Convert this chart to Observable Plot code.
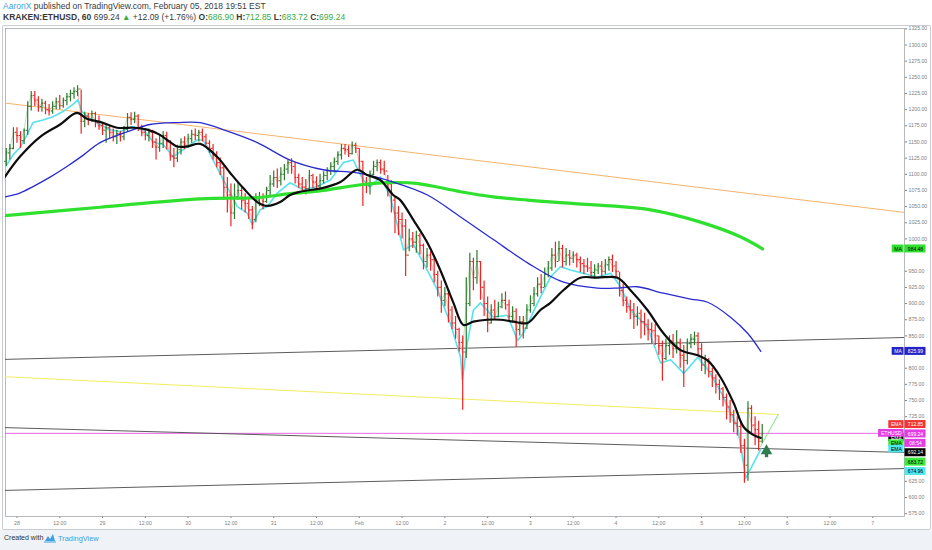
<!DOCTYPE html>
<html>
<head>
<meta charset="utf-8">
<script src="https://cdn.jsdelivr.net/npm/d3@7"></script>
<script src="https://cdn.jsdelivr.net/npm/@observablehq/plot@0.6"></script>
<style>
  body { margin: 0; width: 932px; height: 550px; background: #fff; position: relative; overflow: hidden;
         font-family: "Liberation Sans", Arial, sans-serif; }
  #hdr1, #hdr2 { position: absolute; left: 3px; white-space: nowrap; font-size: 8.5px; color: #3a3a3a; line-height: 11px; }
  #hdr1 { top: 1px; }
  #hdr2 { top: 12px; }
  #hdr1 .au { color: #3d9fe2; }
  #hdr2 .g { color: #3dab3d; }
  #frame { position: absolute; left: 2px; top: 25px; width: 927px; height: 503px; border: 1px solid #c8ccd2; border-radius: 2px; }
  #grafico { position: absolute; left: 0; top: 26px; }
  #foot { position: absolute; left: 0; top: 530px; width: 932px; height: 20px; background: #eff2f6; }
  #foot .txt { position: absolute; left: 4px; top: 4px; font-size: 7px; color: #333; white-space: nowrap; }
  #foot .tv { position: absolute; left: 58px; top: 4px; font-size: 7.4px; color: #3d9fe2; }
  #foot svg { position: absolute; left: 44px; top: 3px; }
</style>
</head>
<body>
<div id="hdr1"><span class="au">AaronX</span> published on TradingView.com, February 05, 2018 19:51 EST</div>
<div id="hdr2"><b>KRAKEN:ETHUSD, 60</b> 699.24 <span class="g">▲</span> +12.09 (+1.76%) <b>O:</b><span class="g">686.90</span> <b>H:</b><span class="g">712.85</span> <b>L:</b><span class="g">683.72</span> <b>C:</b><span class="g">699.24</span></div>
<div id="frame"></div>
<div id="grafico"></div>
<div id="foot">
  <span class="txt">Created with</span>
  <svg width="12" height="10" viewBox="0 0 12 10"><path d="M1 8 L4 3 L6 6 L9 1 L11 8 Z" fill="#3d9fe2"/><path d="M0 9 L12 9" stroke="#3d9fe2" stroke-width="1"/></svg>
  <span class="tv">TradingView</span>
</div>
<script>
// hourly ETHUSD bars, hour 0 = Jan 28 00:00
const startHour = -3
const firstOpen = 1120
const closes = [
  1133,1140,1165,1160,1152,1168,1205,1222,1215,1205,1210,1200,1198,1205,1212,1206,1214,1220,1225,1228,1232,
  1182,1190,1185,1194,1180,1175,1168,1172,1165,1158,1163,1158,1170,1188,1185,1190,1172,1165,1160,1165,1150,1142,1148,1160,1150,1128,1125,1138,1150,1145,
  1155,1162,1160,1165,1158,1148,1140,1130,1118,1110,1080,1068,1040,1065,1075,1060,1055,1045,1030,1060,1065,1058,1075,1085,1095,1090,1100,1108,1118,1112,1095,1085,1080,1078,1098,1088,1082,1090,1098,1105,1112,1120,1130,1140,1138,1132,1145,1140,1120,1085,1082,1100,1112,1118,1108,1105,
  1085,1060,1040,1030,1020,975,1000,995,1005,990,965,975,968,945,925,905,915,890,870,860,840,825,900,965,940,965,925,900,870,890,880,895,905,898,880,888,860,872,862,890,900,915,930,925,945,955,975,965,
  985,965,975,970,975,968,962,958,955,948,952,958,950,960,968,958,950,920,905,895,890,880,885,872,868,860,858,850,835,815,835,842,830,840,820,812,838,845,850,830,805,810,795,785,775,768,755,740,728,715,710,680,650,738,712,705,686.9,699.24
]
const highs = [
  1140,1146,1172,1172,1166,1170,1212,1228,1228,1220,1216,1213,1208,1212,1218,1222,1218,1225,1230,1234,1237,
  1230,1196,1194,1198,1196,1190,1180,1178,1175,1170,1168,1166,1174,1194,1195,1196,1192,1176,1170,1170,1168,1155,1162,1166,1165,1152,1140,1145,1155,1158,
  1162,1168,1170,1168,1170,1162,1152,1146,1135,1125,1112,1095,1085,1085,1086,1080,1070,1062,1050,1070,1072,1070,1080,1098,1105,1108,1110,1115,1122,1124,1118,1100,1095,1092,1106,1100,1096,1100,1104,1110,1118,1125,1135,1146,1146,1144,1150,1148,1140,1120,1095,1105,1120,1122,1122,1120,
  1098,1090,1065,1050,1040,1030,1015,1010,1012,1008,992,985,980,970,950,935,925,918,895,880,862,850,940,978,970,982,965,935,910,898,905,902,915,918,905,895,892,880,880,898,912,925,940,945,955,965,985,995,
  996,990,985,982,980,978,972,968,970,965,960,962,965,968,972,975,965,948,930,910,905,900,895,890,885,875,870,868,850,842,845,850,852,858,845,835,845,852,856,855,838,820,815,800,790,782,770,760,750,735,725,718,690,748,742,725,718,712.85
]
const lows = [
  1112,1122,1138,1148,1140,1146,1160,1198,1205,1196,1196,1192,1190,1193,1200,1200,1202,1206,1212,1216,1220,
  1162,1172,1175,1180,1172,1168,1160,1148,1155,1150,1146,1150,1152,1166,1176,1178,1166,1158,1152,1150,1140,1122,1134,1140,1138,1120,1110,1118,1130,1138,
  1140,1148,1152,1150,1150,1145,1132,1122,1110,1098,1060,1040,1019,1030,1060,1045,1040,1030,1014,1025,1050,1045,1055,1065,1080,1078,1082,1090,1100,1100,1085,1078,1070,1068,1072,1078,1076,1078,1085,1090,1098,1102,1114,1122,1130,1126,1130,1132,1105,1050,1070,1068,1098,1104,1100,1098,
  1065,1040,1008,1005,1000,942,980,985,978,975,952,955,950,932,910,885,895,870,860,845,825,735,815,895,920,930,905,880,855,868,875,878,892,890,872,870,832,850,845,860,885,895,910,915,925,940,950,955,
  965,955,958,958,962,955,948,945,948,942,938,945,942,945,950,948,940,910,895,885,875,860,865,845,850,842,838,835,820,780,812,820,815,822,800,770,805,830,835,820,795,790,785,770,760,750,740,720,715,700,695,668,622,625,700,680,672,683.72
]

// indicator lines: [hour, price]
const ema20 = [[-3.4,1096],[0.8,1127],[6.5,1158],[12.1,1177],[16.8,1195],[19.6,1186],[23.3,1181],[28.1,1172],[32.6,1172],[36.5,1169],[40.1,1161],[42.9,1150],[44.9,1143],[47.7,1143],[51.4,1147],[56.1,1127],[59.8,1102],[63.4,1079],[67.4,1057],[70.2,1051],[73.8,1057],[76.6,1068],[79.4,1073],[85.9,1079],[90.7,1088],[95.4,1107],[98.2,1099],[101.9,1091],[105.5,1068],[107.5,1060],[111.2,1029],[115.1,994],[118.7,952],[122.4,901],[125.2,867],[128,872],[131.9,875],[135.6,875],[139.2,872],[143.2,870],[146.8,890],[149.6,901],[153.3,921],[158,940],[162.8,940],[168.4,940],[172,921],[176.8,890],[181.3,854],[186.1,828],[190.9,820],[193.7,812],[197.3,786],[201,746],[203.8,709],[206.6,696.5],[208.6,692.14]]
const ma50 = [[-3.4,1065],[0.8,1071],[4.5,1081],[9.4,1096],[14,1112],[18.7,1130],[23.3,1149],[32.6,1169],[37.3,1177],[44.9,1180],[51.4,1180],[57.8,1169],[67.4,1149],[76.6,1122],[85.9,1107],[95.4,1102],[105.5,1088],[115.1,1068],[124.4,1034],[133.6,999],[143.2,963],[153.3,933],[162.8,924],[168.4,924],[174,926],[181.3,916],[188.9,907],[193.7,902],[200.1,879],[204.9,854],[208.6,825.99]]
const ma200 = [[-3.4,1036],[23.3,1049],[51.4,1062],[67.4,1064],[76.6,1070],[85.9,1075],[95.4,1083],[104,1087],[112,1086],[124.4,1073],[133.6,1065],[143.2,1060],[152.4,1056],[166.5,1051],[177.7,1045],[191.7,1026],[203,1003],[209.1,984.48]]
const emaLow = [[-3.4,1110],[-1.1,1130],[0.8,1141],[2.8,1161],[4.5,1180],[7.3,1184],[10.1,1189],[12.9,1197],[15.7,1208],[17.1,1215],[18.2,1197],[20.5,1186],[23.3,1177],[26.1,1169],[28.9,1166],[32.6,1174],[35.4,1169],[38.2,1150],[41,1146],[43.8,1127],[46.6,1138],[50.5,1153],[52.2,1153],[55,1122],[58.9,1081],[61.8,1050],[64.6,1040],[66,1022],[68.2,1045],[70.2,1050],[73,1071],[76.6,1087],[80.3,1076],[84.2,1081],[87.9,1091],[91.5,1118],[94.3,1122],[97.1,1091],[99.1,1081],[101.9,1096],[104.7,1065],[108.4,983],[111.2,991],[114,963],[117.9,921],[121.5,870],[124.4,817],[124.9,782],[126.3,839],[128,890],[130,901],[133.6,879],[137.5,882],[140.4,843],[142,854],[146,901],[149.6,941],[152.4,957],[155.2,952],[162.8,941],[166.5,947],[169.3,926],[172.1,890],[176.8,864],[180.5,808],[183.3,813],[187,792],[190.9,817],[194.5,792],[198.2,755],[202.1,709],[204.4,630],[208.6,674.96]]

// drawn trend lines
const orangeLine = [[-4.6,1211],[248.9,1041]]
const blackUpper = [[-4.6,813.5],[248.9,847.5]]
const blackMiddle = [[-4.6,708.3],[248.9,669.6]]
const blackLower = [[-4.6,610.8],[248.9,644.8]]
const yellowLine = [[-4.6,787.2],[213.5,728.4]]
const greenLine = [[208.5,678.9],[213.5,728.4]]
const lastPrice = 699.24
const arrowT = [210.2]
const arrowV = [669.6]

const xTickHours = [0,12,24,36,48,60,72,84,96,108,120,132,144,156,168,180,192,204,216,228,240]
const xTickLabels = ["28","12:00","29","12:00","30","12:00","31","12:00","Feb","12:00","2","12:00","3","12:00","4","12:00","5","12:00","6","12:00","7"]
const yTicks = [575,600,625,650,675,700,725,750,775,800,825,850,875,900,925,950,975,1000,1025,1050,1075,1100,1125,1150,1175,1200,1225,1250,1275,1300,1325]

// price tags on the right scale
const tagNames = ["EMA","EMA","ETHUSD","","EMA","EMA","MA","MA"]
const tagTexts = ["692.14","712.85","699.24","08:54","683.72","674.96","984.48","825.99"]
const tagValues = [692.14,712.85,699.24,699.24,683.72,674.96,984.48,825.99]
const tagColors = ["#000000","#f23434","#e23ce2","#e23ce2","#3ce83c","#52e6ee","#2ee02e","#2323c6"]
const tagInk = ["#fff","#fff","#fff","#fff","#000","#000","#000","#fff"]

const W = 932, H = 503
const mL = 5, mR = 28, mT = 2, mB = 13
const xDomain = [-3.22, 248.9]
const yDomain = [570.6, 1325.5]
const xPx = d3.scaleLinear(xDomain, [mL, W - mR])
const yPx = d3.scaleLinear(yDomain, [H - mB, mT])

let bars = closes.map((c, i) => ({
  t: startHour + i,
  o: i ? closes[i - 1] : firstOpen,
  h: highs[i], l: lows[i], c
}))
bars.forEach(d => d.col = d.c >= d.o ? "#2c7a2c" : "#ec2424")
let links = bars.slice(1).map((d, i) => ({t0: bars[i].t, c0: bars[i].c, t1: d.t, c1: d.c,
  col: d.c >= bars[i].c ? "#a9dca9" : "#f6b0b0"}))

let tags = tagValues.map((v, i) => ({name: tagNames[i], text: tagTexts[i], v, bg: tagColors[i], ink: tagInk[i]}))
// tags slide down so they never overlap
let prev = -Infinity
tags.slice().sort((a, b) => b.v - a.v || (a.name ? -1 : 1)).forEach(d => {
  d.py = Math.max(yPx(d.v), prev + 9.4)
  prev = d.py
  d.ny = yPx(d.v)
})
let named = tags.filter(d => d.name)
const tagW = d => d.name.length * 3.4 + 5
// scale labels hidden under a tag are not drawn
const shownTicks = yTicks.filter(v => !tags.some(d => Math.abs(yPx(v) - d.py) < 6.5))

const line = (data, stroke, strokeWidth, curve) =>
  Plot.line(data, {x: d => d[0], y: d => d[1], stroke, strokeWidth, curve: curve || "linear", clip: true})

let chart = Plot.plot({
  width: W, height: H,
  marginLeft: mL, marginRight: mR, marginTop: mT, marginBottom: mB,
  style: {fontSize: "5.2px", fontFamily: "'Liberation Sans', Arial, sans-serif", color: "#808080", background: "transparent", overflow: "visible"},
  color: {type: "identity"},
  x: {domain: xDomain, ticks: xTickHours, tickFormat: d => xTickLabels[xTickHours.indexOf(d)], tickSize: 2, tickPadding: 3, label: null},
  y: {domain: yDomain, ticks: shownTicks, tickFormat: d3.format(".2f"), axis: "right", tickSize: 2, tickPadding: 2, label: null},
  marks: [
    Plot.frame({stroke: "#a4a8ae", strokeWidth: 0.8}),
    Plot.ruleY([lastPrice], {stroke: "#e040e0", strokeWidth: 0.8}),
    line(orangeLine, "#f5b46c", 1),
    line(blackUpper, "#4a4a4a", 0.9),
    line(blackMiddle, "#4a4a4a", 0.9),
    line(blackLower, "#4a4a4a", 0.9),
    line(yellowLine, "#f4ec62", 1),
    line(greenLine, "#72dc72", 0.9),
    Plot.link(links, {x1: "t0", y1: "c0", x2: "t1", y2: "c1", stroke: "col", strokeWidth: 0.8}),
    line(emaLow, "#56e2ec", 1.6),
    Plot.ruleX(bars, {x: "t", y1: "l", y2: "h", stroke: "col", strokeWidth: 1.2}),
    Plot.ruleY(bars, {y: "o", x1: d => d.t - 0.42, x2: "t", stroke: "col", strokeWidth: 1.1}),
    Plot.ruleY(bars, {y: "c", x1: "t", x2: d => d.t + 0.42, stroke: "col", strokeWidth: 1.1}),
    line(ma200, "#2fe02f", 3.2, "catmull-rom"),
    line(ma50, "#2a2ad0", 1.3, "catmull-rom"),
    line(ema20, "#0d0d0d", 2.2, "catmull-rom"),
    Plot.dot(arrowT.map((t, i) => ({t, v: arrowV[i]})), {x: "t", y: "v", symbol: "triangle", r: 4.3, fill: "#2e7b4f", dy: -1.5}),
    Plot.dot(arrowT.map((t, i) => ({t, v: arrowV[i]})), {x: "t", y: "v", symbol: "square", r: 1.9, fill: "#2e7b4f", dy: 3}),
    // name tags left of the scale, value boxes on the scale
    Plot.rect(named, {x1: d => xPx.invert(903.5 - tagW(d)), x2: xPx.invert(903.5), y1: d => yPx.invert(d.ny + 3.9), y2: d => yPx.invert(d.ny - 3.9), fill: "bg"}),
    Plot.text(named, {x: d => xPx.invert(903.5 - tagW(d) / 2), y: d => yPx.invert(d.ny), text: "name", fill: "ink", fontSize: 5}),
    Plot.rect(tags, {x1: xPx.invert(904.5), x2: xPx.invert(925.5), y1: d => yPx.invert(d.py + 4), y2: d => yPx.invert(d.py - 4), fill: "bg"}),
    Plot.text(tags, {x: xPx.invert(915), y: d => yPx.invert(d.py), text: "text", fill: "ink", fontSize: 5})
  ]
})

d3.select('#grafico').append(() => chart)
</script>
</body>
</html>
